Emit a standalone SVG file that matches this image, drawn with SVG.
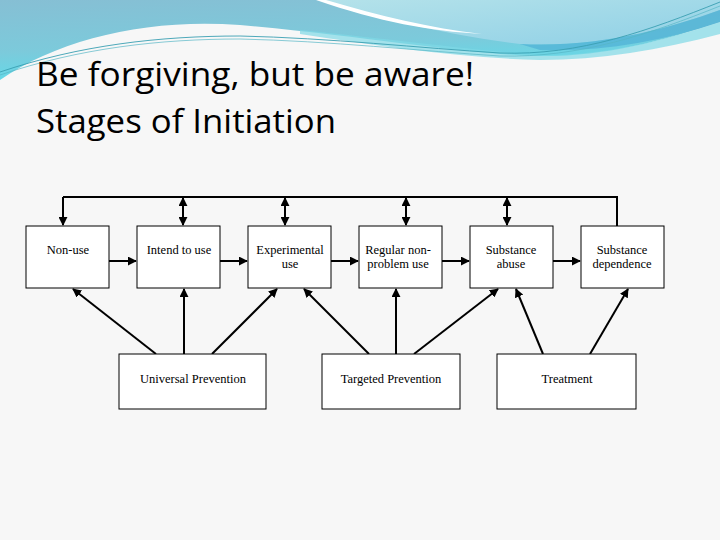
<svg xmlns="http://www.w3.org/2000/svg" width="720" height="540" viewBox="0 0 720 540">
<defs>
<linearGradient id="band" x1="0" y1="0" x2="0.3" y2="1">
<stop offset="0" stop-color="#86bfd4"/>
<stop offset="0.6" stop-color="#7ccadb"/>
<stop offset="1" stop-color="#5fdcea"/>
</linearGradient>
<linearGradient id="light" x1="0" y1="0" x2="1" y2="1">
<stop offset="0" stop-color="#b4e2ea"/>
<stop offset="1" stop-color="#8fd0e6"/>
</linearGradient>
<marker id="ah" viewBox="0 0 10 10" refX="9" refY="5" markerWidth="4.5" markerHeight="4.5" orient="auto-start-reverse" markerUnits="strokeWidth">
<path d="M0,0 L10,5 L0,10 Z" fill="#000"/>
</marker>
</defs>
<style>
.title{font-family:"Open Sans","Noto Sans",sans-serif;font-size:32px;fill:#000;font-variant-ligatures:none}
.box{fill:#fff;stroke:#000;stroke-width:1}
.lbl{font-family:"Liberation Serif","Times New Roman",serif;font-size:12.5px;fill:#000;text-anchor:middle}
.con line,.con path{stroke:#000;stroke-width:2;fill:none}
.arr{marker-end:url(#ah)}
.dbl{marker-start:url(#ah);marker-end:url(#ah)}
</style>
<rect width="720" height="540" fill="#f7f7f7"/>
<g id="header">
<path d="M0,0 H720 V22 C660,42 600,57 540,56 C460,54 380,38 240,25 C150,18 60,38 0,80 Z" fill="url(#band)"/>
<path d="M300,30 C400,40 470,50 540,55 C600,56 660,42 720,22 V34 C660,50 600,60 540,60 C460,58 380,46 300,34 Z" fill="#7fd8e6" opacity="0.7"/>
<path d="M322,0 C380,18 440,34 520,44 C600,48 670,28 720,10 V0 Z" fill="url(#light)"/>
<path d="M520,44 C600,48 670,28 720,10 V22 C660,42 600,52 540,50 Z" fill="#4fb0d6" opacity="0.7"/>
<path d="M316,0 L326,0 C380,16 430,28 482,34 C430,31 380,22 316,0 Z" fill="#fff"/>
<path d="M0,72 C80,45 160,36 240,36 C330,38 420,48 500,53 C580,56 650,30 720,2" stroke="#3a9fb2" stroke-width="0.9" fill="none"/>
<path d="M0,75 C80,48 160,39 240,39 C330,41 420,51 500,56 C580,58 650,34 720,6" stroke="#56b6c6" stroke-width="0.7" fill="none"/>
</g>
<g id="title">
<text class="title" x="36" y="86" textLength="438" lengthAdjust="spacingAndGlyphs">Be forgiving, but be aware!</text>
<text class="title" x="36" y="133" textLength="300" lengthAdjust="spacingAndGlyphs">Stages of Initiation</text>
</g>
<g id="connectors" class="con">
<path d="M63,197 H617 V226"/>
<line class="arr" x1="63" y1="197" x2="63" y2="225"/>
<line class="dbl" x1="183" y1="198" x2="183" y2="225"/>
<line class="dbl" x1="285" y1="198" x2="285" y2="225"/>
<line class="dbl" x1="406" y1="198" x2="406" y2="225"/>
<line class="dbl" x1="507" y1="198" x2="507" y2="225"/>
<line class="arr" x1="109" y1="261" x2="136" y2="261"/>
<line class="arr" x1="220" y1="261" x2="247" y2="261"/>
<line class="arr" x1="331" y1="261" x2="358" y2="261"/>
<line class="arr" x1="442" y1="261" x2="469" y2="261"/>
<line class="arr" x1="553" y1="261" x2="580" y2="261"/>
<line class="arr" x1="156" y1="354" x2="73" y2="289"/>
<line class="arr" x1="184" y1="354" x2="184" y2="289"/>
<line class="arr" x1="212" y1="354" x2="277" y2="289"/>
<line class="arr" x1="369" y1="354" x2="304" y2="289"/>
<line class="arr" x1="396" y1="354" x2="396" y2="289"/>
<line class="arr" x1="414" y1="354" x2="498" y2="289"/>
<line class="arr" x1="543" y1="354" x2="516" y2="289"/>
<line class="arr" x1="590" y1="354" x2="628" y2="289"/>
</g>
<g id="non-use"><rect class="box" x="26" y="226" width="83" height="62"/><text class="lbl" x="68" y="254">Non-use</text></g>
<g id="intend"><rect class="box" x="137" y="226" width="83" height="62"/><text class="lbl" x="179" y="254">Intend to use</text></g>
<g id="experimental"><rect class="box" x="248" y="226" width="83" height="62"/><text class="lbl" x="290" y="254">Experimental</text><text class="lbl" x="290" y="268">use</text></g>
<g id="regular"><rect class="box" x="359" y="226" width="83" height="62"/><text class="lbl" x="398" y="254">Regular non-</text><text class="lbl" x="398" y="268">problem use</text></g>
<g id="abuse"><rect class="box" x="470" y="226" width="83" height="62"/><text class="lbl" x="511" y="254">Substance</text><text class="lbl" x="511" y="268">abuse</text></g>
<g id="dependence"><rect class="box" x="581" y="226" width="83" height="62"/><text class="lbl" x="622" y="254">Substance</text><text class="lbl" x="622" y="268">dependence</text></g>
<g id="universal"><rect class="box" x="119" y="354" width="147" height="55"/><text class="lbl" x="193" y="383">Universal Prevention</text></g>
<g id="targeted"><rect class="box" x="322" y="354" width="138" height="55"/><text class="lbl" x="391" y="383">Targeted Prevention</text></g>
<g id="treatment"><rect class="box" x="497" y="354" width="139" height="55"/><text class="lbl" x="567" y="383">Treatment</text></g>
</svg>
